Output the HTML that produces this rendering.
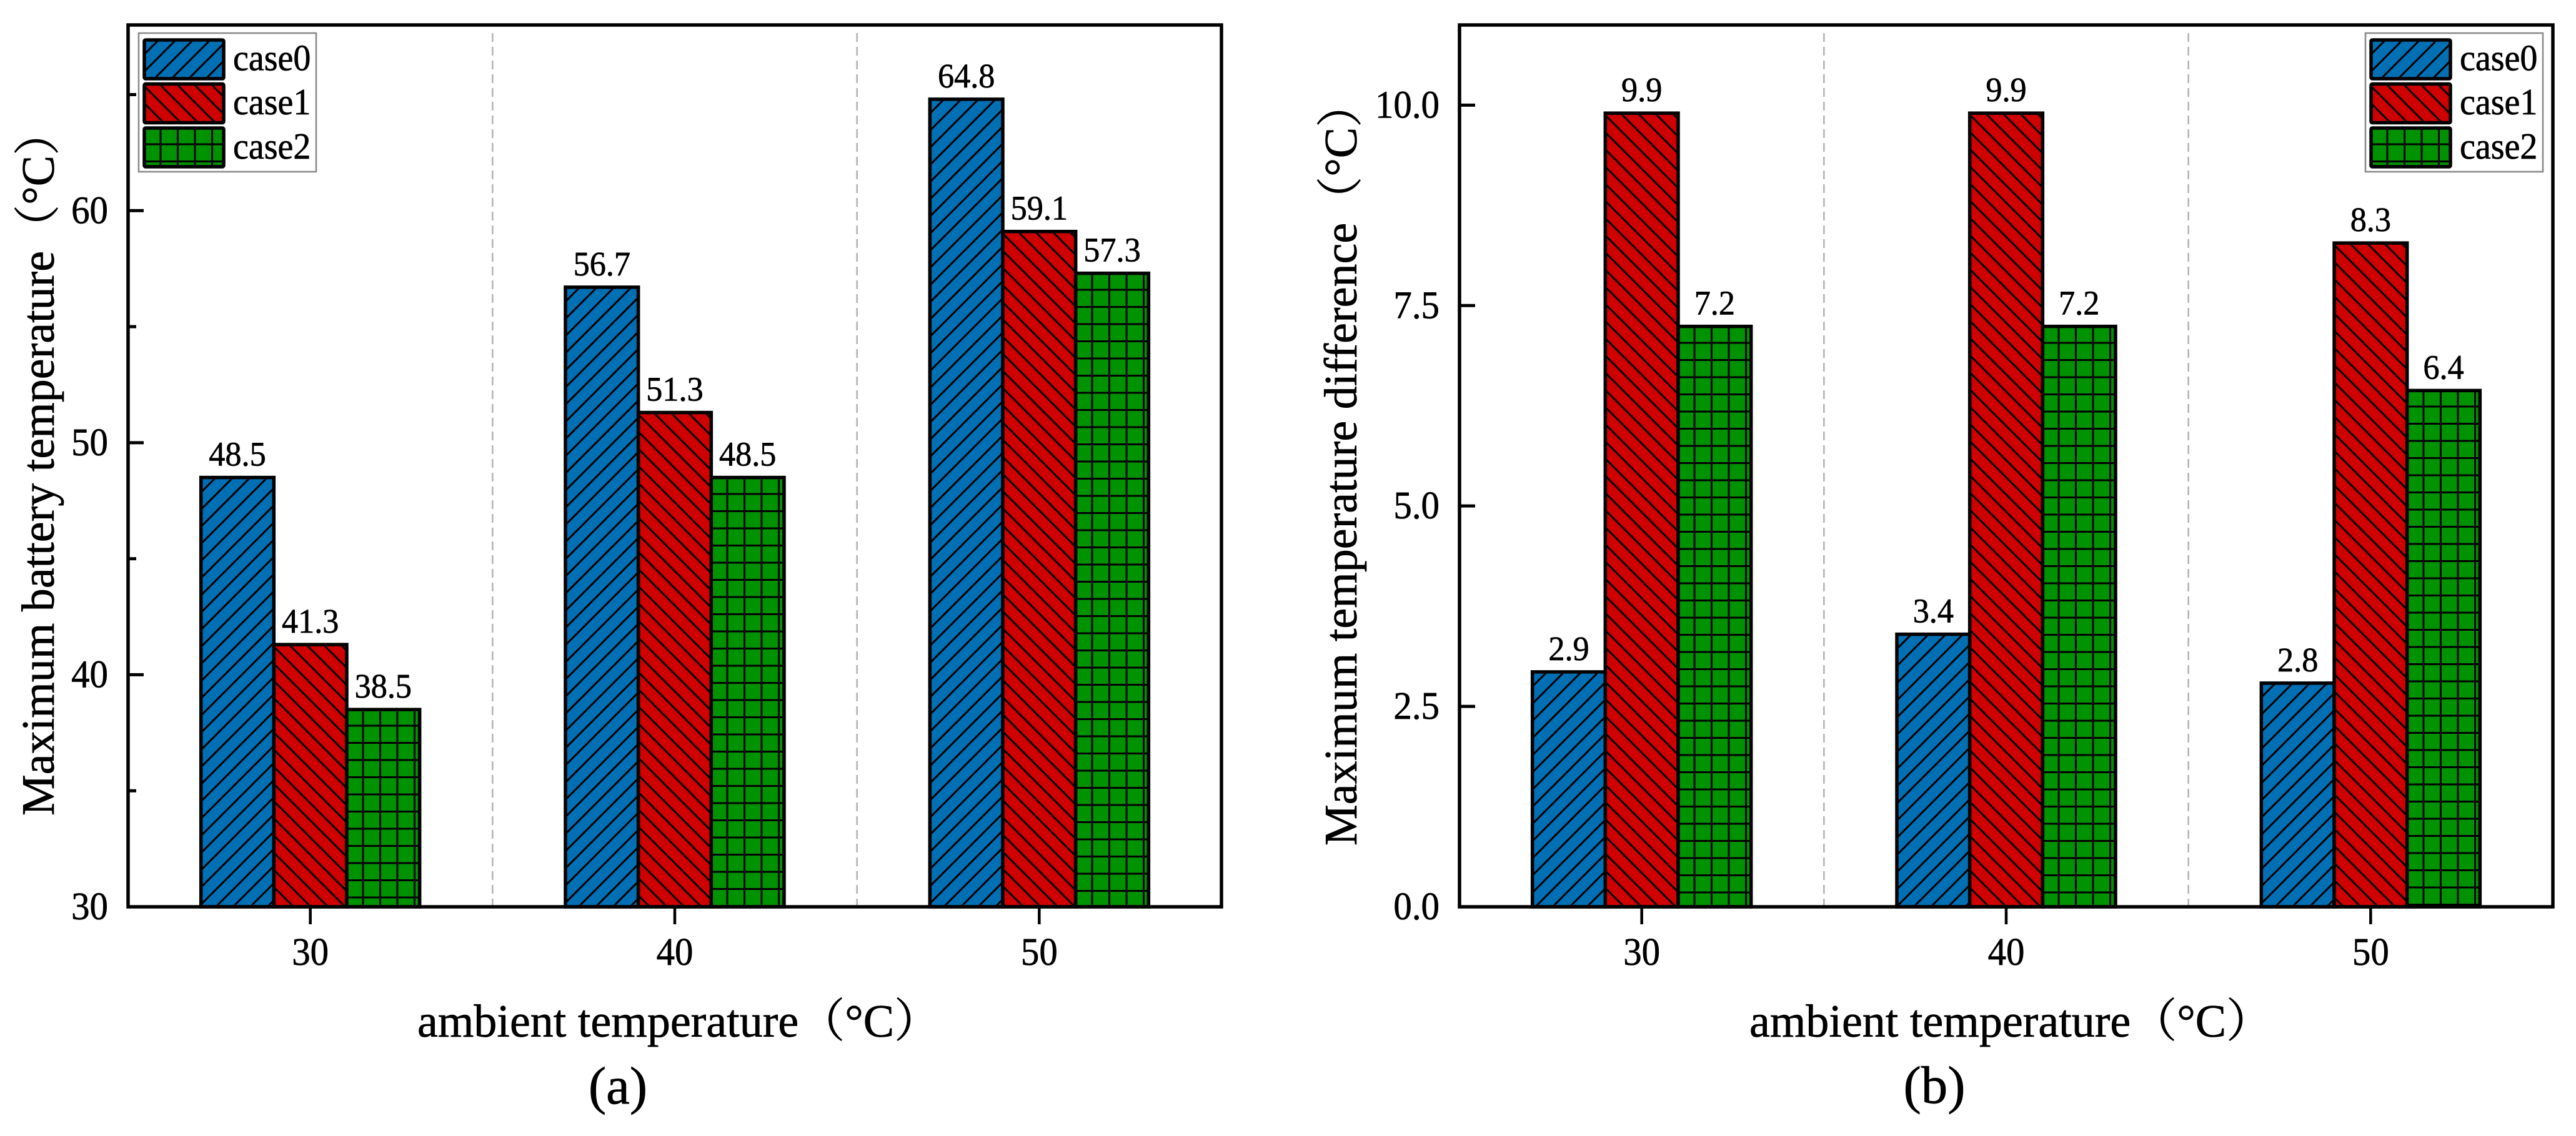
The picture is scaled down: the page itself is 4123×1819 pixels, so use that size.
<!DOCTYPE html>
<html lang="en">
<head>
<meta charset="utf-8">
<title>Battery temperature by ambient temperature</title>
<style>
html,body{margin:0;padding:0;background:#fff}
svg{display:block}
text{font-family:"Liberation Serif","Noto Serif CJK SC",serif;fill:#000;stroke:#000;stroke-width:.7px}
</style>
</head>
<body>
<svg id="figure" xmlns="http://www.w3.org/2000/svg" width="4123" height="1819" viewBox="0 0 4123 1819">
  <rect x="0" y="0" width="4123" height="1819" fill="#fff"/>
  <defs id="defs"></defs>
  <g id="panel-a"></g>
  <g id="panel-b"></g>
  <text transform="translate(86,1306) rotate(-90)" font-size="74">Maximum battery temperature（°C）</text>
  <text x="668" y="1660" font-size="74">ambient temperature（°C）</text>
  <text x="989" y="1767" font-size="85" text-anchor="middle">(a)</text>
  <text transform="translate(2171,1354) rotate(-90)" font-size="74">Maximum temperature difference（°C）</text>
  <text x="2800" y="1660" font-size="74">ambient temperature（°C）</text>
  <text x="3096" y="1766" font-size="85" text-anchor="middle">(b)</text>
</svg>
<script>
const categories = [30, 40, 50];
const seriesNames = ['case0', 'case1', 'case2'];

const batteryCase0 = [48.5, 56.7, 64.8];
const batteryCase1 = [41.3, 51.3, 59.1];
const batteryCase2 = [38.5, 48.5, 57.3];
const batteryTicks = [30, 40, 50, 60];
const batteryMinorTicks = [35, 45, 55, 65];

const differenceCase0 = [2.93, 3.40, 2.79];
const differenceCase1 = [9.90, 9.90, 8.28];
const differenceCase2 = [7.24, 7.24, 6.44];
const differenceTicks = [0, 2.5, 5, 7.5, 10];
const differenceMinorTicks = [];

const separators = [35, 45];

const NS = 'http://www.w3.org/2000/svg';
const COLORS = ['#006fb3', '#cf0000', '#009200'];
const HATCH = 27.5;
const defs = document.getElementById('defs');
let patternCount = 0;

function make(tag, parent, attrs) {
  const el = document.createElementNS(NS, tag);
  for (const k in attrs) el.setAttribute(k, attrs[k]);
  parent.appendChild(el);
  return el;
}

function label(parent, x, y, str, size, anchor) {
  const el = make('text', parent, {
    transform: 'translate(' + x + ',' + y + ') scale(0.95,1)',
    'font-size': size,
    'text-anchor': anchor
  });
  el.textContent = str;
  return el;
}

function hatchFill(seriesIndex, x, y) {
  const id = 'hatch-' + (patternCount++);
  const t = HATCH;
  const p = make('pattern', defs, {
    id: id, patternUnits: 'userSpaceOnUse',
    x: Math.round(x), y: Math.round(y), width: t, height: t
  });
  make('rect', p, { x: 0, y: 0, width: t, height: t, fill: COLORS[seriesIndex] });
  let d;
  if (seriesIndex === 0) {
    const q = 23;
    d = 'M' + (q + 3) + ' -3L-3 ' + (q + 3) + 'M' + (t + 3) + ' ' + (q - 3) + 'L' + (q - 3) + ' ' + (t + 3);
  } else if (seriesIndex === 1) {
    const q = 3;
    d = 'M-3 ' + (q - 3) + 'L' + (t - q + 3) + ' ' + (t + 3) + 'M' + (t - q - 3) + ' -3L' + (t + 3) + ' ' + (q + 3);
  } else {
    d = 'M' + (t - 1.5) + ' 0V' + t + 'M0 ' + (t - 1.5) + 'H' + t;
  }
  make('path', p, { d: d, stroke: '#000', 'stroke-width': 3, fill: 'none' });
  return 'url(#' + id + ')';
}

function drawPanel(cfg) {
  const g = document.getElementById(cfg.id);
  const xScale = v => cfg.left + (v - 25) / 30 * (cfg.right - cfg.left);
  const yScale = v => cfg.bottom - (v - cfg.yMin) / (cfg.yMax - cfg.yMin) * (cfg.bottom - cfg.top);
  const barWidth = (xScale(35) - xScale(25)) * 0.2;

  separators.forEach(s => {
    const el = make('line', g, {
      x1: xScale(s), x2: xScale(s), y1: 53, y2: cfg.bottom,
      stroke: '#b4b4b4', 'stroke-width': 2.6, 'stroke-dasharray': '14 8'
    });
    
    
  });

  cfg.series.forEach((values, si) => {
    values.forEach((v, ci) => {
      const x = xScale(categories[ci]) + (si - 1.5) * barWidth;
      const y = yScale(v);
      const bar = make('rect', g, {
        x: x, y: y, width: barWidth, height: cfg.bottom - y,
        fill: hatchFill(si, x, y), stroke: '#000', 'stroke-width': 5.5
      });
      
      
      const val = label(g, x + barWidth / 2, y - 19, v.toFixed(1), 55, 'middle');
      
      
    });
  });

  const frame = make('rect', g, {
    x: cfg.left, y: cfg.top, width: cfg.right - cfg.left, height: cfg.bottom - cfg.top,
    fill: 'none', stroke: '#000', 'stroke-width': 5.5
  });
  
  

  cfg.ticks.forEach(t => {
    const y = yScale(t);
    const tick = make('line', g, { x1: cfg.left, x2: cfg.left + 25, y1: y, y2: y, stroke: '#000', 'stroke-width': 5 });
    
    
    const text = label(g, cfg.left - 32, y + 20, cfg.format(t), 62, 'end');
    
    
  });
  cfg.minorTicks.forEach(t => {
    const y = yScale(t);
    const tick = make('line', g, { x1: cfg.left, x2: cfg.left + 13, y1: y, y2: y, stroke: '#000', 'stroke-width': 5 });
    
    
  });
  categories.forEach(c => {
    const x = xScale(c);
    const tick = make('line', g, { x1: x, x2: x, y1: cfg.bottom, y2: cfg.bottom + 28, stroke: '#000', 'stroke-width': 4.5 });
    
    
    const text = label(g, x, cfg.bottom + 93, String(c), 62, 'middle');
    
    
  });

  const legend = make('g', g, {});
  
  
  const box = make('rect', legend, {
    x: cfg.legendX, y: 53, width: 284, height: 222, fill: '#fff', stroke: '#8a8a8a', 'stroke-width': 2.6
  });
  
  
  seriesNames.forEach((name, si) => {
    const sy = 64 + si * 70.5;
    const sx = cfg.legendX + 9;
    const swatch = make('rect', legend, {
      x: sx, y: sy, width: 127, height: 62, rx: 2,
      fill: hatchFill(si, sx, sy), stroke: '#000', 'stroke-width': 5.5
    });
    
    
    const text = label(legend, cfg.legendX + 151, 112.5 + si * 70.7, name, 59, 'start');
    
    
  });
}

drawPanel({
  id: 'panel-a', left: 205, right: 1955, top: 40, bottom: 1452, yMin: 30, yMax: 68,
  series: [batteryCase0, batteryCase1, batteryCase2],
  ticks: batteryTicks, minorTicks: batteryMinorTicks,
  format: v => String(v), legendX: 222
});
drawPanel({
  id: 'panel-b', left: 2336, right: 4086, top: 40, bottom: 1452, yMin: 0, yMax: 11,
  series: [differenceCase0, differenceCase1, differenceCase2],
  ticks: differenceTicks, minorTicks: differenceMinorTicks,
  format: v => v.toFixed(1), legendX: 3786
});
</script>
</body>
</html>
